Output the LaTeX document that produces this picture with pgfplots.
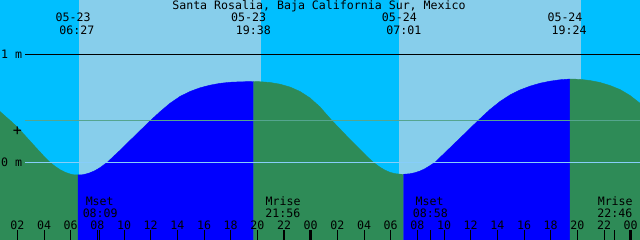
\documentclass[border=0pt]{standalone}
\usepackage{fontspec}
\usepackage{pgfplots}
\pgfplotsset{compat=1.18}
\newfontfamily\mono{DejaVu Sans Mono}
\definecolor{night}{HTML}{00BFFF}
\definecolor{day}{HTML}{87CEEB}
\definecolor{flood}{HTML}{0000FF}
\definecolor{ebb}{HTML}{2E8B57}
\definecolor{zeroline}{HTML}{87CEFA}
\definecolor{meanline}{HTML}{55A58F}
\tikzset{lbl/.style={font=\mono\fontsize{11.6bp}{13bp}\selectfont, inner sep=0pt, text=black}}
\begin{document}
\begin{tikzpicture}
\begin{axis}[
 name=ax,
 width=640bp, height=240bp, scale only axis,
 xmin=0.6975, xmax=48.6975, ymin=-0.7131, ymax=1.5009,
 axis x line*=bottom, axis y line=none,
 x axis line style={draw=none},
 axis on top,
 clip=true,
 tick align=inside,
 xtick={2,4,...,48},
 xticklabels={02,04,06,08,10,12,14,16,18,20,22,00,02,04,06,08,10,12,14,16,18,20,22,00},
 major tick length=10bp,
 tick style={black, line width=0.8bp},
 xticklabel style={anchor=base, yshift=10.7bp, inner sep=0pt, text=black, font=\mono\fontsize{11.6bp}{13bp}\selectfont},
 extra x ticks={8.15,21.933,32.967,46.767},
 extra x tick labels={},
 ytick=\empty,
]
\fill[night] (rel axis cs:0,0) rectangle (rel axis cs:1,1);
\fill[day] (axis cs:6.62,-1) rectangle (axis cs:20.27,2);
\fill[day] (axis cs:30.62,-1) rectangle (axis cs:44.27,2);

% falling tide (ebb)
\addplot[draw=ebb, line width=0.4bp, fill=ebb] coordinates {
(0.6975,0.472) (1.0725,0.431) (1.4475,0.391) (1.8225,0.348) (2.1975,0.302)
(2.5725,0.251) (2.9475,0.200) (3.3225,0.149) (3.6975,0.099) (4.0725,0.048)
(4.4475,0.004) (4.8225,-0.033) (5.1975,-0.064) (5.5725,-0.088) (5.9475,-0.104)
(6.2475,-0.112) (6.548,-0.113) (6.548,-1) (0.6975,-1)} -- cycle;
% rising tide (flood)
\addplot[draw=flood, line width=0.4bp, fill=flood] coordinates {
(6.548,-0.113) (6.848,-0.112) (7.148,-0.104) (7.448,-0.093) (7.823,-0.073)
(8.198,-0.046) (8.745,0.004) (9.323,0.071) (9.698,0.114) (10.073,0.159)
(10.448,0.205) (11.198,0.295) (12.0,0.391) (12.698,0.470) (13.448,0.548)
(14.198,0.611) (14.948,0.657) (15.698,0.691) (16.448,0.715) (17.198,0.732)
(17.948,0.742) (18.698,0.746) (19.71,0.749) (19.71,-1) (6.548,-1)} -- cycle;
% falling
\addplot[draw=ebb, line width=0.4bp, fill=ebb] coordinates {
(19.71,0.749) (20.198,0.747) (20.948,0.740) (21.698,0.724) (22.448,0.698)
(23.198,0.657) (23.948,0.597) (24.698,0.514) (25.575,0.391) (26.198,0.311)
(26.948,0.214) (27.698,0.122) (28.223,0.057) (28.695,0.004) (29.198,-0.042)
(29.573,-0.069) (29.948,-0.089) (30.323,-0.101) (30.698,-0.106) (30.96,-0.107)
(30.96,-1) (19.71,-1)} -- cycle;
% rising
\addplot[draw=flood, line width=0.4bp, fill=flood] coordinates {
(30.96,-0.107) (31.448,-0.102) (31.823,-0.092) (32.198,-0.077) (32.573,-0.055)
(32.948,-0.027) (33.323,0.004) (34.073,0.093) (34.823,0.182) (35.573,0.271)
(36.57,0.391) (37.448,0.491) (38.198,0.565) (38.948,0.625) (39.698,0.671)
(40.448,0.706) (41.198,0.733) (41.948,0.752) (42.698,0.765) (43.448,0.772)
(43.448,-1) (30.96,-1)} -- cycle;
% falling
\addplot[draw=ebb, line width=0.4bp, fill=ebb] coordinates {
(43.448,0.772) (44.198,0.769) (44.948,0.758) (45.698,0.740) (46.448,0.712)
(47.198,0.675) (47.948,0.620) (48.698,0.548) (48.698,-1) (43.448,-1)} -- cycle;

% reference lines
\addplot[black, line width=1bp] coordinates {(2.5725,1) (48.8,1)};
\addplot[meanline, line width=1bp] coordinates {(2.5725,0.391) (48.8,0.391)};
\addplot[zeroline, line width=1bp] coordinates {(2.5725,0) (48.8,0)};
% midnight ticks
\addplot[black, line width=3bp] coordinates {(24,-0.7131) (24,-0.6208)};
\addplot[black, line width=3bp] coordinates {(48,-0.7131) (48,-0.6208)};

% texts
\node[lbl, anchor=base] at (rel axis cs:0.4984,0.96125) {Santa Rosalia, Baja California Sur, Mexico};
\node[lbl, anchor=base] at (rel axis cs:0.1141,0.9096) {05-23};
\node[lbl, anchor=base] at (rel axis cs:0.1200,0.8583) {06:27};
\node[lbl, anchor=base] at (rel axis cs:0.3886,0.9096) {05-23};
\node[lbl, anchor=base] at (rel axis cs:0.3958,0.8583) {19:38};
\node[lbl, anchor=base] at (rel axis cs:0.6239,0.9096) {05-24};
\node[lbl, anchor=base] at (rel axis cs:0.6309,0.8583) {07:01};
\node[lbl, anchor=base] at (rel axis cs:0.8828,0.9096) {05-24};
\node[lbl, anchor=base] at (rel axis cs:0.8891,0.8583) {19:24};

\node[lbl, anchor=base west] at (rel axis cs:0.0016,0.7571) {1 m};
\node[lbl, anchor=base west] at (rel axis cs:0.0016,0.3083) {0 m};
\node[lbl, anchor=center, font=\mono\fontsize{15bp}{16bp}\selectfont] at (rel axis cs:0.0272,0.4513) {+};

\node[lbl, anchor=base] at (rel axis cs:0.1558,0.1417) {Mset};
\node[lbl, anchor=base] at (rel axis cs:0.1566,0.0946) {08:09};
\node[lbl, anchor=base] at (rel axis cs:0.4425,0.1417) {Mrise};
\node[lbl, anchor=base] at (rel axis cs:0.4419,0.0946) {21:56};
\node[lbl, anchor=base] at (rel axis cs:0.6714,0.1417) {Mset};
\node[lbl, anchor=base] at (rel axis cs:0.6723,0.0946) {08:58};
\node[lbl, anchor=base] at (rel axis cs:0.9613,0.1417) {Mrise};
\node[lbl, anchor=base] at (rel axis cs:0.9606,0.0946) {22:46};
\end{axis}
\pgfresetboundingbox
\path (ax.south west) rectangle (ax.north east);
\end{tikzpicture}
\end{document}
